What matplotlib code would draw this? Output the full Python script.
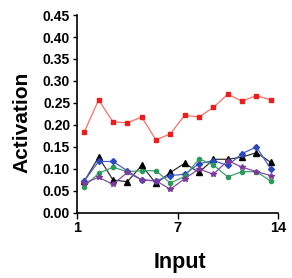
import matplotlib
matplotlib.use("Agg")
import matplotlib.pyplot as plt
import numpy as np

inputs = np.arange(1, 15)
red = [0.184, 0.257, 0.207, 0.205, 0.218, 0.166, 0.180, 0.222, 0.218, 0.240, 0.270, 0.254, 0.267, 0.257]
black = [0.072, 0.127, 0.075, 0.071, 0.108, 0.067, 0.092, 0.113, 0.092, 0.122, 0.122, 0.127, 0.137, 0.115]
blue = [0.073, 0.117, 0.117, 0.096, 0.075, 0.073, 0.085, 0.088, 0.112, 0.119, 0.108, 0.135, 0.150, 0.100]
green = [0.060, 0.090, 0.104, 0.094, 0.096, 0.096, 0.068, 0.083, 0.123, 0.109, 0.082, 0.094, 0.094, 0.072]
purple = [0.068, 0.081, 0.065, 0.092, 0.075, 0.073, 0.054, 0.078, 0.100, 0.088, 0.119, 0.104, 0.094, 0.085]

xtick_pos = [0.5, 7.5, 14.5]
xtick_labels = ["1", "7", "14"]

plt.rcParams['font.family'] = ['Liberation Sans', 'DejaVu Sans']

fig = plt.figure(figsize=(2.92, 2.78), dpi=100)
ax = fig.add_axes([0.264, 0.234, 0.688, 0.712])

ax.plot(inputs, red, color='#ff7060', lw=0.9, marker='s', ms=3.5,
        mfc='#ee1c1c', mec='#ee1c1c')
ax.plot(inputs, black, color='#333333', lw=0.9, marker='^', ms=4,
        mfc='black', mec='black')
ax.plot(inputs, blue, color='#4a60c8', lw=0.9, marker='D', ms=3,
        mfc='#2a48c0', mec='#2a48c0')
ax.plot(inputs, green, color='#40a070', lw=0.9, marker='o', ms=3,
        mfc='#2a9a5a', mec='#2a9a5a')
ax.plot(inputs, purple, color='#8a4aa8', lw=0.9, marker='*', ms=4,
        mfc='#7a3a9a', mec='#7a3a9a')

ax.set_xlim(0.5, 14.5)
ax.set_ylim(0, 0.45)
yt = np.arange(0, 0.46, 0.05)
ax.set_yticks(yt)
ax.set_yticklabels([f"{v:.2f}" for v in yt])
ax.set_xticks(xtick_pos)
ax.set_xticklabels(xtick_labels)

for s in ['top', 'right']:
    ax.spines[s].set_visible(False)
for s in ['left', 'bottom']:
    ax.spines[s].set_linewidth(1.2)

ax.tick_params(axis='y', labelsize=10, length=3, width=1, pad=2)
ax.tick_params(axis='x', labelsize=10.5, length=4, width=1, pad=2)
for lbl in ax.get_yticklabels() + ax.get_xticklabels():
    lbl.set_fontweight('bold')

ax.set_ylabel("Activation", fontsize=15, fontweight='bold')
ax.yaxis.set_label_coords(-0.225, 0.457)
ax.set_xlabel("Input", fontsize=15.5, fontweight='bold')
ax.xaxis.set_label_coords(0.512, -0.195)

fig.savefig("out.png", dpi=100)
